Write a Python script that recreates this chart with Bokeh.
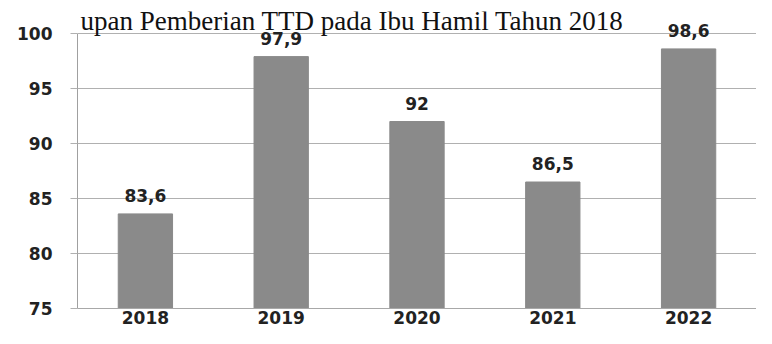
from bokeh.plotting import figure
from bokeh.models import ColumnDataSource, LabelSet, Label, FactorRange, Range1d
from bokeh.core.properties import value
from bokeh.embed import file_html
from bokeh.resources import INLINE

years = ["2018", "2019", "2020", "2021", "2022"]
values = [83.6, 97.9, 92.0, 86.5, 98.6]
value_labels = ["83,6", "97,9", "92", "86,5", "98,6"]
y_ticks = [75, 80, 85, 90, 95, 100]
title_text = "upan Pemberian TTD pada Ibu Hamil Tahun 2018"

src = ColumnDataSource(dict(years=years, values=values, labels=value_labels))

p = figure(x_range=FactorRange(*years), y_range=Range1d(75, 102),
           width=756, height=328, output_backend="svg", toolbar_location=None,
           min_border_left=77, min_border_right=0, min_border_top=11, min_border_bottom=20)
p.outline_line_color = None
p.background_fill_color = "white"
p.border_fill_color = "white"

p.vbar(x="years", top="values", bottom=75, width=0.4, color="#8a8a8a", source=src)

p.add_layout(LabelSet(x="years", y="values", text="labels", source=src, y_offset=12,
                      text_align="center", text_baseline="alphabetic",
                      text_font=value("DejaVu Sans"), text_font_size=value("17px"),
                      text_font_style="bold", text_color="#222222"))

p.add_layout(Label(x=80, y=20, x_units="canvas", y_units="canvas", text=title_text,
                   text_font="Liberation Serif", text_font_size="27px",
                   text_baseline="alphabetic", text_color="#111111", level="overlay"))

p.xgrid.grid_line_color = None
p.ygrid.grid_line_color = "#b0b0b0"
p.ygrid.grid_line_width = 1

p.yaxis.ticker = y_ticks
p.yaxis.bounds = (75, 100)
p.yaxis.axis_line_color = "#a0a0a0"
p.yaxis.major_tick_out = 7
p.yaxis.major_tick_in = 0
p.yaxis.major_tick_line_color = "#b0b0b0"
p.yaxis.minor_tick_line_color = None
p.yaxis.major_label_standoff = 18

p.xaxis.axis_line_color = "#a8a8a8"
p.xaxis.major_tick_line_color = None
p.xaxis.major_tick_out = 0
p.xaxis.major_label_standoff = 2

for ax in (p.xaxis, p.yaxis):
    ax.major_label_text_font = "DejaVu Sans"
    ax.major_label_text_font_size = "17px"
    ax.major_label_text_font_style = "bold"
    ax.major_label_text_color = "#222222"

open("out.html", "w").write(file_html(p, INLINE))
